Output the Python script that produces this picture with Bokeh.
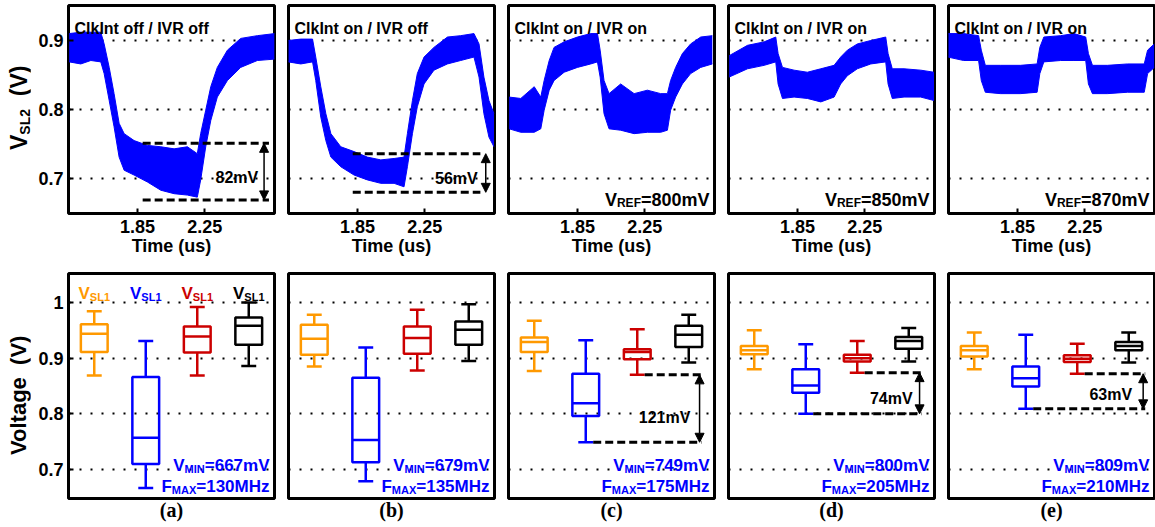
import math
from bokeh.plotting import figure
from bokeh.layouts import row, column
from bokeh.models import (Label, FixedTicker, Arrow, NormalHead, Range1d, Div,
                          ColumnDataSource, CustomJSTickFormatter)
from bokeh.embed import file_html
from bokeh.resources import INLINE

# ---------------------------------------------------------------- data
panel_tags = ["(a)", "(b)", "(c)", "(d)", "(e)"]
titles = ["ClkInt off / IVR off", "ClkInt on / IVR off", "ClkInt on / IVR on",
          "ClkInt on / IVR on", "ClkInt on / IVR on"]
vref_mv = [None, None, 800, 850, 870]

time_ticks = [1.85, 2.25]
top_v_ticks = [0.7, 0.8, 0.9]
bot_v_ticks = [0.7, 0.8, 0.9, 1.0]

# V_SL2 trace envelope: time (us), upper and lower edge of the noisy trace (V)
t_a = [1.444, 1.513, 1.573, 1.632, 1.652, 1.682, 1.711, 1.741, 1.771, 1.830, 1.909, 1.989,
       2.068, 2.147, 2.206, 2.226, 2.256, 2.286, 2.325, 2.385, 2.464, 2.563, 2.666]
hi_a = [0.910, 0.912, 0.912, 0.912, 0.895, 0.861, 0.823, 0.780, 0.765, 0.755, 0.748, 0.746,
        0.743, 0.746, 0.736, 0.765, 0.799, 0.833, 0.861, 0.886, 0.903, 0.907, 0.910]
lo_a = [0.869, 0.866, 0.871, 0.869, 0.852, 0.813, 0.775, 0.731, 0.712, 0.705, 0.695, 0.683,
        0.678, 0.676, 0.673, 0.698, 0.746, 0.784, 0.818, 0.842, 0.861, 0.871, 0.873]

t_b = [1.438, 1.513, 1.583, 1.602, 1.632, 1.662, 1.692, 1.751, 1.830, 1.909, 1.989, 2.068,
       2.127, 2.147, 2.177, 2.206, 2.246, 2.305, 2.385, 2.464, 2.543, 2.573, 2.602, 2.632, 2.662]
hi_b = [0.900, 0.902, 0.902, 0.876, 0.833, 0.794, 0.765, 0.746, 0.739, 0.731, 0.727, 0.729,
        0.731, 0.765, 0.813, 0.852, 0.876, 0.890, 0.905, 0.907, 0.910, 0.895, 0.847, 0.813, 0.794]
lo_b = [0.869, 0.866, 0.869, 0.842, 0.789, 0.755, 0.731, 0.717, 0.705, 0.698, 0.693, 0.693,
        0.688, 0.717, 0.765, 0.804, 0.837, 0.857, 0.866, 0.871, 0.876, 0.847, 0.794, 0.760, 0.746]

t_c = [1.444, 1.513, 1.593, 1.632, 1.652, 1.682, 1.711, 1.771, 1.850, 1.929, 1.969, 1.985,
       2.008, 2.038, 2.107, 2.187, 2.266, 2.345, 2.385, 2.404, 2.434, 2.474, 2.523, 2.583, 2.652]
hi_c = [0.818, 0.816, 0.833, 0.818, 0.842, 0.871, 0.890, 0.898, 0.905, 0.910, 0.910, 0.886,
        0.842, 0.823, 0.837, 0.823, 0.828, 0.823, 0.823, 0.842, 0.861, 0.881, 0.895, 0.905, 0.907]
lo_c = [0.772, 0.767, 0.767, 0.772, 0.799, 0.828, 0.842, 0.854, 0.861, 0.866, 0.869, 0.847,
        0.794, 0.772, 0.770, 0.765, 0.767, 0.767, 0.770, 0.799, 0.818, 0.837, 0.852, 0.861, 0.866]

t_d = [1.444, 1.553, 1.652, 1.721, 1.735, 1.761, 1.830, 1.909, 1.989, 2.068, 2.107, 2.147,
       2.206, 2.286, 2.375, 2.389, 2.414, 2.484, 2.583, 2.662]
hi_d = [0.878, 0.893, 0.898, 0.905, 0.881, 0.861, 0.857, 0.854, 0.859, 0.864, 0.876, 0.886,
        0.895, 0.900, 0.905, 0.881, 0.859, 0.859, 0.857, 0.854]
lo_d = [0.847, 0.859, 0.864, 0.869, 0.837, 0.816, 0.818, 0.816, 0.811, 0.818, 0.837, 0.849,
        0.859, 0.866, 0.869, 0.837, 0.816, 0.818, 0.818, 0.813]

t_e = [1.436, 1.530, 1.619, 1.635, 1.659, 1.749, 1.868, 1.967, 1.983, 2.007, 2.107, 2.186,
       2.256, 2.272, 2.296, 2.385, 2.505, 2.604, 2.624, 2.664]
hi_e = [0.910, 0.910, 0.907, 0.886, 0.864, 0.864, 0.864, 0.866, 0.890, 0.905, 0.907, 0.910,
        0.905, 0.881, 0.864, 0.864, 0.866, 0.866, 0.886, 0.895]
lo_e = [0.876, 0.871, 0.871, 0.842, 0.825, 0.823, 0.823, 0.825, 0.852, 0.869, 0.871, 0.871,
        0.871, 0.837, 0.823, 0.823, 0.825, 0.825, 0.852, 0.861]

trace_t = [t_a, t_b, t_c, t_d, t_e]
trace_hi = [hi_a, hi_b, hi_c, hi_d, hi_e]
trace_lo = [lo_a, lo_b, lo_c, lo_d, lo_e]

# droop markers on panels (a) and (b): upper / lower dashed level (V)
droop_top = [0.751, 0.736]
droop_bot = [0.669, 0.680]

# box statistics per panel: (whisker low, Q1, median, Q3, whisker high), volts
orange_stats = [(0.869, 0.911, 0.944, 0.961, 0.984),
                (0.885, 0.906, 0.935, 0.960, 0.978),
                (0.877, 0.911, 0.929, 0.937, 0.967),
                (0.880, 0.907, 0.914, 0.922, 0.950),
                (0.880, 0.903, 0.914, 0.922, 0.946)]
blue_stats = [(0.667, 0.710, 0.757, 0.866, 0.931),
              (0.679, 0.713, 0.753, 0.865, 0.919),
              (0.749, 0.796, 0.819, 0.872, 0.932),
              (0.800, 0.838, 0.851, 0.880, 0.925),
              (0.809, 0.849, 0.864, 0.885, 0.942)]
red_stats = [(0.869, 0.910, 0.939, 0.957, 0.992),
             (0.878, 0.908, 0.936, 0.957, 0.987),
             (0.870, 0.898, 0.911, 0.916, 0.952),
             (0.874, 0.894, 0.900, 0.906, 0.931),
             (0.872, 0.893, 0.899, 0.905, 0.926)]
black_stats = [(0.886, 0.924, 0.958, 0.973, 1.000),
               (0.895, 0.924, 0.951, 0.966, 0.997),
               (0.892, 0.920, 0.942, 0.958, 0.978),
               (0.894, 0.917, 0.931, 0.938, 0.954),
               (0.892, 0.914, 0.922, 0.929, 0.946)]
fmax_mhz = [130, 135, 175, 205, 210]

# ---------------------------------------------------------------- style
SANS = "Liberation Sans"
SERIF = "Liberation Serif"
BLUE = "#0000FF"
ORANGE = "#FF9900"
RED = "#CC0000"
BLACK = "#000000"
box_colors = [ORANGE, BLUE, RED, BLACK]

TX = (1.44, 2.665)
TY = (0.6493, 0.9507)
BX = (0.5, 4.5)
BY = (0.648, 1.052)
FW, TFH, BFH = 206, 208, 225

STRIP_W = 30                      # column holding the rotated axis titles
COL_W = [251, 220, 220, 220, 214]
COL_L = [38, 7, 7, 7, 7]
COL_R = [7, 7, 7, 7, 1]
TOP_H, BOT_H = 260, 267

# Arial/Liberation Sans Bold advance widths (1/1000 em)
ADV = {" ": 278, "(": 333, ")": 333, "/": 278, "=": 584, ".": 278,
       "A": 722, "C": 722, "E": 667, "F": 611, "I": 278, "L": 611, "M": 833, "N": 722,
       "R": 722, "S": 667, "V": 667, "X": 667, "H": 722, "T": 611,
       "a": 556, "e": 556, "f": 333, "g": 611, "i": 278, "k": 556, "l": 278, "m": 889,
       "n": 611, "o": 611, "s": 556, "t": 333, "u": 611, "z": 500}


def tw(text, size):
    return sum(ADV.get(c, 556) for c in text) * size / 1000.0


def put(p, x, y, text, size, color=BLACK, align="left", font=SANS, xo=0.0):
    p.add_layout(Label(x=x, y=y, text=text, text_font=font, text_font_size=f"{size}px",
                       text_font_style="bold", text_color=color, text_align=align,
                       text_baseline="alphabetic", x_offset=xo))


def rich_h(p, x, y, parts, color, align, sy):
    """Horizontal text built from (text, size, drop_px) pieces."""
    total = sum(tw(t, s) for t, s, _ in parts)
    off = {"left": 0.0, "right": -total, "center": -total / 2.0}[align]
    for t, s, d in parts:
        put(p, x, y - d * sy, t, s, color, "left", xo=off)
        off += tw(t, s)


def side_title(html, h, size, start_y):
    """Narrow column with an axis title that reads upward (baseline near x=27)."""
    inner = (f"<div style=\"position:absolute;left:{27 - 0.8465 * size:.1f}px;top:{start_y}px;"
             f"transform-origin:0 0;transform:rotate(-90deg);white-space:nowrap;"
             f"font-family:'{SANS}';font-weight:bold;font-size:{size}px;line-height:1;"
             f"color:#000;\">{html}</div>")
    outer = (f"<div style=\"position:relative;width:{STRIP_W}px;height:{h}px;"
             f"overflow:visible;\">{inner}</div>")
    return Div(text=outer, width=STRIP_W, height=h, margin=0)


def base_fig(i, top):
    xr, yr = (TX, TY) if top else (BX, BY)
    p = figure(width=COL_W[i], height=TOP_H if top else BOT_H,
               x_range=Range1d(*xr), y_range=Range1d(*yr),
               output_backend="svg", toolbar_location=None,
               min_border_left=COL_L[i], min_border_right=COL_R[i],
               min_border_top=5 if top else 13, min_border_bottom=47 if top else 29)
    p.background_fill_color = "white"
    p.border_fill_color = "white"
    p.outline_line_color = "black"
    p.outline_line_width = 3
    p.outline_line_alpha = 1.0
    p.xgrid.visible = False
    ticks = top_v_ticks if top else bot_v_ticks
    p.ygrid.ticker = FixedTicker(ticks=ticks)
    p.ygrid.grid_line_color = "black"
    p.ygrid.grid_line_width = 2
    p.ygrid.grid_line_dash = "2 9"

    ya = p.yaxis[0]
    if i == 0:
        ya.ticker = FixedTicker(ticks=ticks)
        ya.formatter = CustomJSTickFormatter(
            code="return Math.abs(tick - 1) < 1e-9 ? '1' : tick.toFixed(1);")
        ya.axis_line_color = None
        ya.major_tick_in = 5
        ya.major_tick_out = 0
        ya.major_tick_line_width = 2
        ya.minor_tick_line_color = None
        ya.major_label_standoff = 5
        ya.major_label_text_font = SANS
        ya.major_label_text_font_size = "18px"
        ya.major_label_text_font_style = "bold"
        ya.major_label_text_color = "black"
    else:
        ya.visible = False

    xa = p.xaxis[0]
    xa.axis_line_color = None
    xa.minor_tick_line_color = None
    xa.major_tick_out = 0
    xa.axis_label_text_font_style = "bold"
    xa.axis_label_text_color = "black"
    if top:
        xa.ticker = FixedTicker(ticks=time_ticks)
        xa.formatter = CustomJSTickFormatter(code="return tick.toFixed(2);")
        xa.major_tick_in = 5
        xa.major_tick_line_width = 2
        xa.major_label_standoff = 6
        xa.major_label_text_font = SANS
        xa.major_label_text_font_size = "18px"
        xa.major_label_text_font_style = "bold"
        xa.major_label_text_color = "black"
        xa.axis_label = "Time (us)"
        xa.axis_label_text_font = SANS
        xa.axis_label_text_font_size = "18px"
        xa.axis_label_standoff = 0
    else:
        xa.ticker = FixedTicker(ticks=[])
        xa.major_tick_in = 0
        xa.major_label_standoff = 0
        xa.axis_label = panel_tags[i]
        xa.axis_label_text_font = SERIF
        xa.axis_label_text_font_size = "20px"
        xa.axis_label_standoff = 0
    return p


def dashed_pair(p, x0s, x1s, ys):
    p.segment(x0=x0s, y0=ys, x1=x1s, y1=ys, line_color="black", line_width=3,
              line_dash="8 4")


def double_arrow(p, x, y0, y1):
    p.add_layout(Arrow(x_start=x, y_start=y0, x_end=x, y_end=y1,
                       line_color="black", line_width=1.5,
                       start=NormalHead(size=9, fill_color="black", line_color="black",
                                        line_width=1),
                       end=NormalHead(size=9, fill_color="black", line_color="black",
                                      line_width=1)))


# ---------------------------------------------------------------- top row: V_SL2 traces
tsx = (TX[1] - TX[0]) / FW
tsy = (TY[1] - TY[0]) / TFH
top_title = side_title(
    "V<span style=\"font-size:14px;position:relative;top:3px;\">SL2</span>&nbsp;&nbsp;(V)",
    TOP_H, 23, 150)

top_figs = [top_title]
for i in range(5):
    p = base_fig(i, True)
    p.varea(x=trace_t[i], y1=trace_lo[i], y2=trace_hi[i], fill_color=BLUE, fill_alpha=1.0)
    p.line(x=trace_t[i], y=trace_hi[i], line_color=BLUE, line_width=1)
    p.line(x=trace_t[i], y=trace_lo[i], line_color=BLUE, line_width=1)

    put(p, TX[0] + 6 * tsx, TY[1] - 23 * tsy, titles[i], 16)

    if i < 2:
        xs0 = [1.881, 1.822][i]
        xs1 = [2.632, 2.581][i]
        xarr = [2.603, 2.613][i]
        xlab = [2.441, 2.438][i]
        dashed_pair(p, [xs0, xs0], [xs1, xs1], [droop_top[i], droop_bot[i]])
        double_arrow(p, xarr, droop_bot[i], droop_top[i])
        mv = round((droop_top[i] - droop_bot[i]) * 1000)
        ymid = (droop_top[i] + droop_bot[i]) / 2.0
        put(p, xlab, ymid - 5.5 * tsy, f"{mv}mV", 16, align="center")
    if vref_mv[i] is not None:
        rich_h(p, TX[0] + 201 * tsx, TY[1] - 194.5 * tsy,
               [("V", 18, 0), ("REF", 12, 3), (f"={vref_mv[i]}mV", 18, 0)], BLACK, "right", tsy)
    top_figs.append(p)

# ---------------------------------------------------------------- bottom row: box plots
bsx = (BX[1] - BX[0]) / FW
bsy = (BY[1] - BY[0]) / BFH
BOX_HW = 0.26
CAP_HW = 0.145
LW = 2.5
bot_title = side_title("Voltage&nbsp;&nbsp;(V)", BOT_H, 22, 195)

bot_figs = [bot_title]
for i in range(5):
    p = base_fig(i, False)
    stats = [orange_stats[i], blue_stats[i], red_stats[i], black_stats[i]]
    xs = [1, 2, 3, 4]
    src = ColumnDataSource(dict(
        x=xs,
        lo=[s[0] for s in stats], q1=[s[1] for s in stats], md=[s[2] for s in stats],
        q3=[s[3] for s in stats], hi=[s[4] for s in stats],
        left=[x - BOX_HW for x in xs], right=[x + BOX_HW for x in xs],
        cl=[x - CAP_HW for x in xs], cr=[x + CAP_HW for x in xs],
        color=box_colors))
    p.segment(x0="x", y0="lo", x1="x", y1="q1", line_color="color", line_width=LW, source=src)
    p.segment(x0="x", y0="q3", x1="x", y1="hi", line_color="color", line_width=LW, source=src)
    p.segment(x0="cl", y0="lo", x1="cr", y1="lo", line_color="color", line_width=LW, source=src)
    p.segment(x0="cl", y0="hi", x1="cr", y1="hi", line_color="color", line_width=LW, source=src)
    p.quad(left="left", right="right", bottom="q1", top="q3", fill_color=None,
           line_color="color", line_width=LW, source=src)
    p.segment(x0="left", y0="md", x1="right", y1="md", line_color="color", line_width=LW,
              source=src)

    if i >= 2:
        red_lo = red_stats[i][0]
        blue_lo = blue_stats[i][0]
        x_end = [4.25, 4.25, 4.32][i - 2]
        x_arr = [4.21, 4.21, 4.28][i - 2]
        x_lab = [3.53, 3.66, 3.65][i - 2]
        y_lab = [0.8025, 0.837, 0.844][i - 2]
        dashed_pair(p, [3 + CAP_HW, 2 + CAP_HW], [x_end, x_end], [red_lo, blue_lo])
        double_arrow(p, x_arr, blue_lo, red_lo)
        gap = round((red_lo - blue_lo) * 1000)
        put(p, x_lab, y_lab - 5.5 * bsy, f"{gap}mV", 16, align="center")

    vmin = round(blue_stats[i][0] * 1000)
    rich_h(p, BX[0] + 201 * bsx, BY[1] - 192 * bsy,
           [("V", 17, 0), ("MIN", 11, 3), (f"={vmin}mV", 17, 0)], BLUE, "right", bsy)
    rich_h(p, BX[0] + 201 * bsx, BY[1] - 213 * bsy,
           [("F", 17, 0), ("MAX", 11, 3), (f"={fmax_mhz[i]}MHz", 17, 0)], BLUE, "right", bsy)

    if i == 0:
        for k, c in enumerate(box_colors):
            rich_h(p, xs[k], BY[1] - 20 * bsy, [("V", 17, 0), ("SL1", 11, 3)], c, "center", bsy)
    bot_figs.append(p)

layout = column(row(*top_figs), row(*bot_figs))
open("out.html", "w").write(file_html(layout, INLINE))
